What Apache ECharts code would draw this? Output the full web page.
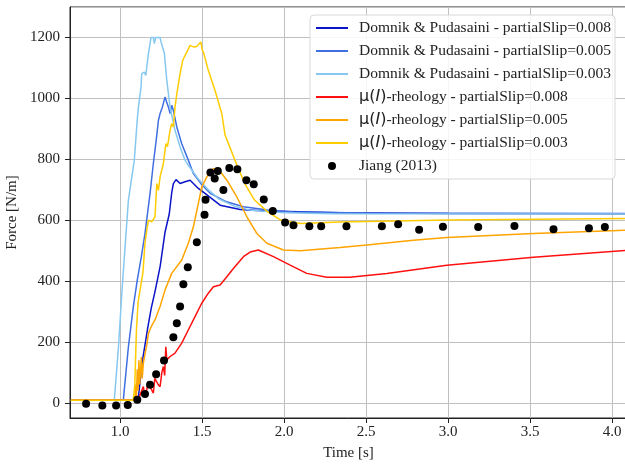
<!DOCTYPE html>
<html>
<head>
<meta charset="utf-8">
<script src="https://cdn.jsdelivr.net/npm/echarts@6/dist/echarts.min.js"></script>
<style>
  html, body { margin: 0; padding: 0; background: #fff; }
  #main { width: 625px; height: 466px; }
</style>
</head>
<body>
<div id="main"></div>
<script>
var dom = document.getElementById("main");
var myChart = echarts.init(dom);

// legend names
var names = [
  'Domnik & Pudasaini - partialSlip=0.008',
  'Domnik & Pudasaini - partialSlip=0.005',
  'Domnik & Pudasaini - partialSlip=0.003',
  'μ(I)-rheology - partialSlip=0.008',
  'μ(I)-rheology - partialSlip=0.005',
  'μ(I)-rheology - partialSlip=0.003',
  'Jiang (2013)'
];

// time [s], force [N/m]
var dp008 = [[0.7,8],[1.11,8],[1.12,60],[1.14,150],[1.17,250],[1.19,310],[1.215,370],[1.245,450],[1.274,560],[1.30,620],[1.315,690],[1.325,720],[1.341,733],[1.366,720],[1.396,726],[1.427,731],[1.447,720],[1.477,704],[1.518,688],[1.61,649],[1.732,635],[1.895,630],[2.34,624],[3.0,622],[4.09,621]];

var dp005 = [[0.7,8],[1.02,8],[1.026,43],[1.051,184],[1.081,316],[1.105,403],[1.13,480],[1.152,556],[1.183,688],[1.203,786],[1.22,860],[1.234,928],[1.244,950],[1.258,971],[1.274,1004],[1.285,1010],[1.295,971],[1.305,950],[1.315,977],[1.325,960],[1.346,906],[1.376,851],[1.416,797],[1.447,753],[1.5,715],[1.549,688],[1.65,660],[1.752,644],[1.9,633],[2.057,627],[2.5,623],[4.09,622]];

var dp003 = [[0.7,8],[0.965,8],[0.99,180],[1.012,370],[1.051,666],[1.087,797],[1.105,930],[1.112,971],[1.128,1037],[1.132,1081],[1.148,1086],[1.157,1075],[1.163,1103],[1.173,1147],[1.189,1200],[1.203,1200],[1.209,1180],[1.218,1200],[1.244,1200],[1.25,1185],[1.258,1185],[1.27,1148],[1.285,1059],[1.305,971],[1.335,895],[1.366,840],[1.396,797],[1.416,780],[1.477,735],[1.538,700],[1.6,670],[1.7,645],[1.8,632],[2.0,624],[2.3,621],[4.09,620]];

var mu008 = [[0.7,8],[1.11,8],[1.125,30],[1.142,53],[1.15,30],[1.163,43],[1.172,70],[1.183,65],[1.19,45],[1.203,32],[1.212,80],[1.224,86],[1.232,60],[1.244,53],[1.255,100],[1.264,119],[1.272,90],[1.279,184],[1.285,141],[1.305,152],[1.335,163],[1.376,196],[1.416,239],[1.457,283],[1.498,327],[1.538,360],[1.569,381],[1.61,387],[1.651,414],[1.691,441],[1.752,480],[1.793,495],[1.843,502],[1.935,480],[2.037,452],[2.138,425],[2.26,412],[2.40,412],[2.626,425],[2.992,452],[3.52,478],[4.09,501]];

var mu005 = [[0.7,8],[1.09,8],[1.095,60],[1.10,20],[1.105,110],[1.11,40],[1.115,140],[1.12,60],[1.13,150],[1.135,80],[1.142,130],[1.152,160],[1.163,190],[1.173,228],[1.19,250],[1.213,272],[1.244,316],[1.274,370],[1.315,425],[1.376,469],[1.416,524],[1.447,578],[1.477,654],[1.498,709],[1.529,742],[1.569,770],[1.599,764],[1.62,753],[1.651,731],[1.712,676],[1.773,611],[1.834,556],[1.895,524],[1.996,502],[2.098,499],[2.341,510],[2.504,518],[2.788,534],[2.992,543],[3.52,556],[4.09,567]];

var mu003 = [[0.7,8],[1.08,8],[1.09,60],[1.095,150],[1.10,240],[1.11,330],[1.125,380],[1.14,430],[1.152,524],[1.163,567],[1.173,600],[1.193,594],[1.213,611],[1.224,720],[1.234,698],[1.244,742],[1.264,786],[1.274,830],[1.28,851],[1.289,841],[1.305,895],[1.315,917],[1.325,906],[1.335,971],[1.346,1015],[1.366,1081],[1.382,1125],[1.407,1152],[1.427,1174],[1.447,1169],[1.467,1170],[1.493,1185],[1.50,1160],[1.508,1152],[1.538,1092],[1.579,1026],[1.62,950],[1.64,880],[1.70,797],[1.76,720],[1.82,666],[1.90,627],[1.98,600],[2.10,589],[2.34,594],[3.0,600],[4.09,605]];

var jiang = [[0.793,-3],[0.892,-9],[0.976,-9],[1.047,-7],[1.105,10],[1.152,29],[1.183,59],[1.22,94],[1.268,139],[1.325,215],[1.346,261],[1.366,316],[1.386,389],[1.413,445],[1.468,527],[1.515,618],[1.521,667],[1.551,756],[1.577,737],[1.596,761],[1.63,699],[1.666,771],[1.715,767],[1.77,731],[1.815,718],[1.876,668],[1.931,630],[2.006,592],[2.057,583],[2.154,580],[2.226,580],[2.38,580],[2.596,580],[2.695,586],[2.823,568],[2.968,578],[3.183,577],[3.404,581],[3.642,570],[3.858,573],[3.955,577]];

var lineData = [dp008, dp005, dp003, mu008, mu005, mu003];
var colors = ['#0a14c8', '#3f6fe0', '#87c8f0', '#ff1010', '#ffa500', '#ffcc00'];

var serif = 'Liberation Serif';

var series = [];
var legendData = [];
for (var i = 0; i < lineData.length; i++) {
  series.push({
    name: names[i],
    type: 'line',
    data: lineData[i],
    symbol: 'none',
    clip: true,
    lineStyle: { width: 1.5, color: colors[i] },
    itemStyle: { color: colors[i] }
  });
  // hide the dot that the legend puts on a line icon
  legendData.push({ name: names[i], itemStyle: { opacity: 0 } });
}
series.push({
  name: names[6],
  type: 'scatter',
  data: jiang,
  symbolSize: 8,
  itemStyle: { color: '#000', opacity: 1 },
  z: 5
});
legendData.push({ name: names[6] });

option = {
  animation: false,
  backgroundColor: '#fff',
  grid: {
    left: 70, top: 7, right: -2, bottom: 48,
    containLabel: false,
    outerBoundsMode: 'none',
    show: true, borderColor: '#222', borderWidth: 1
  },
  legend: {
    data: legendData,
    orient: 'vertical',
    left: 310,
    top: 15,
    itemWidth: 32,
    itemHeight: 8,
    itemGap: 7,
    padding: [5, 4, 5, 5],
    backgroundColor: 'rgba(255,255,255,0.85)',
    borderColor: '#d8d8d8',
    borderWidth: 1,
    borderRadius: 4,
    textStyle: {
      fontFamily: serif, fontSize: 15.5, color: '#222', lineHeight: 16,
      rich: {
        g: { width: 6 },
        m: { fontFamily: 'DejaVu Sans', fontSize: 16, color: '#222' },
        i: { fontFamily: 'DejaVu Sans', fontSize: 16, fontStyle: 'italic', color: '#222' }
      }
    },
    formatter: function (name) {
      return '{g|}' + name.replace('μ(I)', '{m|μ(}{i|I}{m|)}');
    }
  },
  xAxis: {
    type: 'value',
    min: 0.695,
    max: 4.09,
    splitNumber: 7,
    name: 'Time [s]',
    nameLocation: 'middle',
    nameGap: 28,
    nameTextStyle: { fontFamily: serif, fontSize: 15, color: '#222' },
    axisLine: { show: true, onZero: false, lineStyle: { color: '#222' } },
    axisTick: { show: true, length: 5, lineStyle: { color: '#222' } },
    axisLabel: {
      fontFamily: serif, fontSize: 15, color: '#222', margin: 7,
      showMinLabel: false, showMaxLabel: false,
      formatter: function (v) { return v.toFixed(1); }
    },
    splitLine: { show: true, lineStyle: { color: '#c0c0c0', width: 1 } }
  },
  yAxis: {
    type: 'value',
    min: -50,
    max: 1300,
    splitNumber: 7,
    name: 'Force [N/m]',
    nameLocation: 'middle',
    nameGap: 44,
    nameTextStyle: { fontFamily: serif, fontSize: 15, color: '#222' },
    axisLine: { show: true, onZero: false, lineStyle: { color: '#222' } },
    axisTick: { show: true, length: 5, lineStyle: { color: '#222' } },
    axisLabel: {
      fontFamily: serif, fontSize: 15, color: '#222', margin: 10,
      showMinLabel: false, showMaxLabel: false,
      formatter: function (v) { return String(v); }
    },
    splitLine: { show: true, lineStyle: { color: '#c0c0c0', width: 1 } }
  },
  series: series
};

if (option && typeof option === "object") {
  myChart.setOption(option, true);
}
</script>
</body>
</html>
